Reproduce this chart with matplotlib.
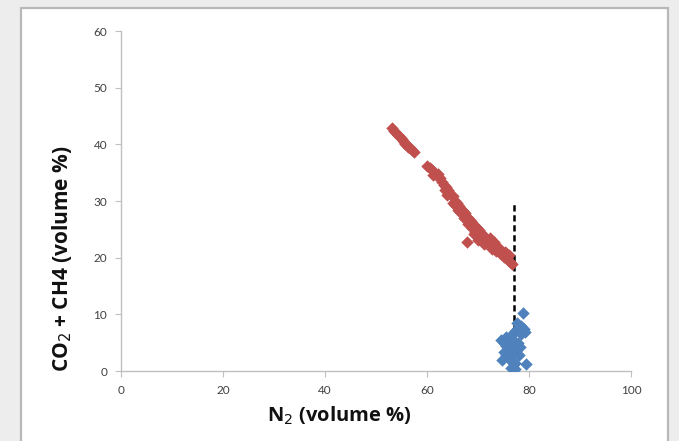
import matplotlib.pyplot as plt
from matplotlib.patches import Rectangle

# Gas composition samples (volume %)
red_n2 = [53.2, 53.6, 54.0, 54.3, 54.7, 55.0, 55.4, 55.8, 56.2, 56.6, 57.0, 57.4, 54.5, 55.6,
          60.0, 60.5, 61.0, 61.5, 62.0, 62.5, 63.0, 63.3, 63.8, 64.2, 64.6, 65.0, 65.4, 65.8,
          66.2, 66.6, 67.0, 67.4, 67.8, 68.2, 68.6, 69.0, 69.4, 69.8, 70.2, 70.6, 71.0, 71.4,
          71.8, 72.2, 72.6, 73.0, 73.4, 73.8, 74.2, 74.6, 75.0, 75.4, 75.8, 76.3, 76.7,
          66.5, 67.2, 68.8, 70.0, 71.2, 72.7, 74.0, 64.0, 65.5, 69.5, 73.5, 75.5, 67.8, 62.2,
          61.2, 63.5, 65.0, 66.0, 68.0, 69.2, 70.4, 71.6, 72.4, 73.2, 74.4, 75.2, 76.0]
red_gas = [42.9, 42.4, 42.0, 41.7, 41.3, 40.9, 40.5, 40.1, 39.6, 39.3, 39.0, 38.6, 41.5, 40.0,
           36.2, 35.8, 35.5, 35.0, 34.4, 34.0, 33.4, 32.8, 32.4, 32.0, 31.2, 30.8, 30.0, 29.6,
           29.2, 28.6, 28.2, 27.8, 27.2, 26.8, 26.4, 26.0, 25.6, 25.2, 24.8, 24.4, 24.0, 23.5,
           23.1, 22.8, 22.4, 22.0, 21.7, 21.3, 21.0, 20.6, 20.2, 20.0, 19.6, 19.2, 18.9,
           28.0, 27.0, 25.2, 23.2, 22.5, 21.6, 21.8, 31.0, 29.3, 24.5, 21.2, 20.8, 22.8, 34.8,
           34.6, 32.0, 29.6, 28.4, 26.0, 24.2, 23.8, 22.6, 23.4, 22.8, 21.4, 21.0, 20.4]

blue_n2 = [74.5, 75.0, 75.5, 76.0, 76.5, 77.0, 77.5, 78.0, 78.5, 79.0, 78.8, 77.6, 76.2,
           76.8, 75.0, 75.5, 76.0, 76.5, 77.0, 77.2, 76.5, 77.5, 78.0, 79.5, 76.8, 77.8,
           78.5, 79.2, 75.5, 76.5, 74.8, 77.3, 78.2]
blue_gas = [5.5, 5.0, 4.5, 5.8, 6.2, 6.8, 7.2, 7.6, 7.9, 7.5, 10.3, 8.5, 4.8,
            5.5, 3.3, 2.8, 2.4, 1.8, 1.2, 0.3, 0.6, 3.5, 2.8, 1.2, 3.0, 5.0,
            6.5, 6.8, 6.0, 4.0, 2.0, 1.5, 4.2]

cutoff_x = [77, 77]
cutoff_y = [0, 30]

x_ticks = [0, 20, 40, 60, 80, 100]
y_ticks = [0, 10, 20, 30, 40, 50, 60]

fig = plt.figure(figsize=(6.79, 4.41), dpi=100)
fig.patch.set_facecolor('#ecedec')
# white panel behind the plot
fig.patches.append(Rectangle((21 / 679, -0.05), 647 / 679, 1 - 8 / 441 + 0.05,
                             transform=fig.transFigure, facecolor='white',
                             edgecolor='#b8b8b8', linewidth=1.6, zorder=-10))

ax = fig.add_axes([121 / 679, 1 - 371 / 441, 510 / 679, 340 / 441])
ax.set_facecolor('none')

ax.scatter(red_n2, red_gas, marker='D', s=40, color='#c0504d', linewidths=0, zorder=3)
ax.scatter(blue_n2, blue_gas, marker='D', s=40, color='#4f81bd', linewidths=0, zorder=3)
ax.plot(cutoff_x, cutoff_y, color='black', linestyle=(0, (2.5, 1.5)), linewidth=1.8, zorder=2)

ax.set_xlim(0, 100)
ax.set_ylim(0, 60)
ax.set_xticks(x_ticks)
ax.set_yticks(y_ticks)

for side in ['top', 'right']:
    ax.spines[side].set_visible(False)
for side in ['left', 'bottom']:
    ax.spines[side].set_color('#c0c0c0')
    ax.spines[side].set_linewidth(1.0)

ax.tick_params(direction='out', length=4, color='#c0c0c0', labelcolor='#404040',
               labelsize=8.5, pad=6)
for lbl in ax.get_xticklabels() + ax.get_yticklabels():
    lbl.set_family('Lato')

fig.text(339 / 679, 1 - 416 / 441, 'N$_2$ (volume %)', fontsize=14.5, fontweight='bold',
         family='Open Sans', color='#111111', ha='center', va='center')
fig.text(62 / 679, 1 - 259 / 441, 'CO$_2$ + CH4 (volume %)', fontsize=15, fontweight='bold',
         family='Open Sans', color='#111111', ha='center', va='center', rotation=90)

fig.savefig('out.png', dpi=100, facecolor=fig.get_facecolor())
